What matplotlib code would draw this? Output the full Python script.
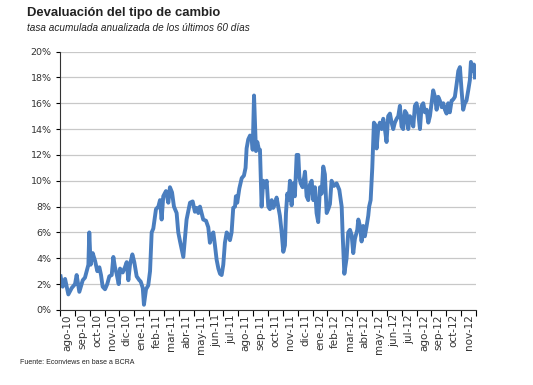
import matplotlib.pyplot as plt
import numpy as np

# -----------------------
# Data
# t = months since 1-ago-2010, tasa = % anualizada
# -----------------------

meses = ["ago-10", "sep-10", "oct-10", "nov-10", "dic-10", "ene-11", "feb-11",
         "mar-11", "abr-11", "may-11", "jun-11", "jul-11", "ago-11", "sep-11",
         "oct-11", "nov-11", "dic-11", "ene-12", "feb-12", "mar-12", "abr-12",
         "may-12", "jun-12", "jul-12", "ago-12", "sep-12", "oct-12", "nov-12"]

t = [0.04, 0.18, 0.34, 0.56, 0.79, 1.01, 1.12, 1.30, 1.53, 1.68,
     1.91, 1.97, 2.06, 2.20, 2.36, 2.51, 2.65, 2.76, 2.87, 3.03,
     3.18, 3.32, 3.48, 3.59, 3.70, 3.81, 3.95, 4.04, 4.22, 4.37,
     4.49, 4.60, 4.71, 4.87, 5.00, 5.16, 5.34, 5.43, 5.57, 5.65,
     5.79, 5.94, 6.06, 6.17, 6.28, 6.46, 6.62, 6.73, 6.84, 6.95,
     7.13, 7.29, 7.40, 7.54, 7.67, 7.85, 7.96, 8.08, 8.30, 8.52,
     8.75, 8.93, 9.08, 9.20, 9.31, 9.42, 9.53, 9.64, 9.83, 9.98,
     10.09, 10.21, 10.32, 10.43, 10.54, 10.66, 10.77, 10.88, 10.99, 11.10,
     11.22, 11.33, 11.44, 11.55, 11.66, 11.78, 11.84, 11.93, 12.07, 12.23,
     12.38, 12.49, 12.56, 12.67, 12.79, 12.90, 12.97, 13.06, 13.14, 13.19,
     13.28, 13.39, 13.46, 13.57, 13.68, 13.80, 13.91, 14.02, 14.13, 14.25,
     14.35, 14.47, 14.58, 14.69, 14.80, 14.92, 15.03, 15.14, 15.21, 15.30,
     15.39, 15.48, 15.59, 15.70, 15.81, 15.93, 16.04, 16.11, 16.20, 16.33,
     16.49, 16.60, 16.71, 16.82, 16.94, 17.05, 17.16, 17.27, 17.38, 17.50,
     17.61, 17.72, 17.83, 17.95, 18.06, 18.17, 18.28, 18.44, 18.62, 18.80,
     18.96, 19.02, 19.14, 19.29, 19.40, 19.52, 19.63, 19.74, 19.85, 20.01,
     20.08, 20.19, 20.30, 20.41, 20.52, 20.64, 20.75, 20.81, 20.91, 21.02,
     21.13, 21.24, 21.31, 21.42, 21.53, 21.65, 21.76, 21.87, 21.98, 22.09,
     22.21, 22.32, 22.43, 22.54, 22.66, 22.77, 22.88, 22.99, 23.10, 23.22,
     23.33, 23.44, 23.55, 23.67, 23.78, 23.89, 24.00, 24.11, 24.23, 24.34,
     24.45, 24.56, 24.68, 24.79, 24.90, 25.01, 25.12, 25.24, 25.35, 25.46,
     25.57, 25.69, 25.80, 25.91, 26.02, 26.13, 26.24, 26.36, 26.47, 26.58,
     26.70, 26.81, 26.92, 27.03, 27.14, 27.25, 27.36, 27.48, 27.59, 27.66,
     27.77, 27.86, 27.93]

tasa = [2.6, 1.8, 2.4, 1.2, 1.7, 2.0, 2.7, 1.4, 2.3, 2.5,
        3.5, 6.0, 3.5, 4.4, 3.8, 3.0, 3.3, 2.7, 1.8, 1.6,
        2.0, 2.6, 2.7, 4.1, 3.3, 2.8, 2.0, 3.2, 2.9, 3.3,
        3.7, 2.3, 3.5, 4.3, 3.7, 2.6, 2.3, 2.2, 1.7, 0.4,
        1.6, 1.9, 3.0, 6.0, 6.3, 7.8, 8.0, 8.5, 7.0, 8.8,
        9.2, 8.3, 9.5, 9.1, 8.0, 7.5, 6.0, 5.3, 4.1, 7.0,
        8.3, 8.4, 7.6, 7.9, 7.5, 8.0, 7.5, 7.0, 6.9, 6.4,
        5.2, 5.8, 6.0, 5.0, 3.9, 3.2, 2.8, 2.7, 3.5, 5.2,
        6.0, 5.8, 5.4, 6.0, 7.9, 8.0, 8.8, 8.3, 9.4, 10.2,
        10.4, 11.0, 12.5, 13.2, 13.5, 13.3, 12.4, 16.6, 14.0, 12.3,
        13.0, 12.4, 12.4, 8.0, 10.0, 9.5, 10.0, 8.0, 7.8, 8.5,
        7.9, 8.2, 8.7, 8.0, 7.3, 6.0, 4.5, 5.0, 7.5, 9.0,
        8.5, 10.0, 8.1, 9.8, 8.8, 12.0, 12.0, 10.3, 9.8, 9.5,
        10.7, 8.8, 8.5, 9.7, 10.0, 8.5, 9.5, 7.5, 6.8, 9.5,
        9.0, 11.1, 10.5, 7.5, 7.8, 8.2, 10.0, 9.6, 9.8, 9.3,
        8.0, 6.0, 2.8, 4.0, 6.0, 6.2, 5.8, 4.4, 5.5, 6.2,
        7.0, 6.5, 5.3, 6.5, 5.7, 6.5, 7.3, 8.0, 8.5, 11.0,
        14.5, 14.3, 12.5, 14.0, 14.5, 14.0, 14.8, 14.0, 13.0, 15.0,
        15.2, 14.5, 14.0, 14.5, 14.8, 15.0, 15.8, 14.2, 14.0, 15.4,
        15.2, 14.0, 15.0, 14.8, 14.2, 15.8, 16.0, 15.3, 14.0, 15.8,
        16.0, 15.3, 15.5, 14.5, 15.0, 16.0, 17.0, 16.5, 15.5, 16.5,
        16.2, 15.7, 16.0, 15.5, 15.2, 16.0, 15.3, 16.2, 16.3, 16.5,
        17.5, 18.5, 18.8, 17.0, 15.5, 16.0, 16.2, 17.0, 17.8, 19.2,
        18.5, 19.0, 18.0]

titulo = "Devaluación del tipo de cambio"
subtitulo = "tasa acumulada anualizada de los últimos 60 días"
fuente = "Fuente: Econviews en base a BCRA"

# -----------------------
# Plot
# -----------------------

plt.rcParams["font.family"] = ["DejaVu Sans"]

fig = plt.figure(figsize=(5.33, 3.85), dpi=100)
ax = fig.add_axes([0.1126, 0.195, 0.7804, 0.671])

ax.plot(t, tasa, color="#4a7ebf", linewidth=2.8, solid_joinstyle="round")

ax.set_xlim(0, len(meses))
ax.set_ylim(0, 20)

ax.set_yticks(np.arange(0, 21, 2))
ax.set_yticklabels([f"{v}%" for v in range(0, 21, 2)], fontsize=6.8, color="#333333")
ax.yaxis.grid(True, color="#c8c8c8", linewidth=0.9)
ax.set_axisbelow(True)

ax.set_xticks(np.arange(0, len(meses) + 1))
ax.set_xticklabels([])
ax.set_xticks(np.arange(len(meses)) + 0.5, minor=True)
ax.set_xticklabels(meses, minor=True, rotation=90, fontsize=7.5, color="#333333")
ax.tick_params(axis="x", which="major", length=4, width=0.8, direction="out")
ax.tick_params(axis="x", which="minor", length=0, pad=3)
ax.tick_params(axis="y", length=3, width=0.8, pad=3)

for side in ["top", "right"]:
    ax.spines[side].set_visible(False)
for side in ["left", "bottom"]:
    ax.spines[side].set_color("#333333")
    ax.spines[side].set_linewidth(0.8)

fig.text(27 / 533, 1 - 13 / 385, titulo, fontsize=9.4, fontweight="bold",
         family="Liberation Sans", color="#222222", va="center", ha="left")
fig.text(27 / 533, 1 - 28 / 385, subtitulo, fontsize=7.2, style="italic",
         family="Liberation Sans", color="#222222", va="center", ha="left")
fig.text(20 / 533, 1 - 362 / 385, fuente, fontsize=5, family="Liberation Sans",
         color="#222222", va="center", ha="left")

fig.savefig("out.png", dpi=100)
